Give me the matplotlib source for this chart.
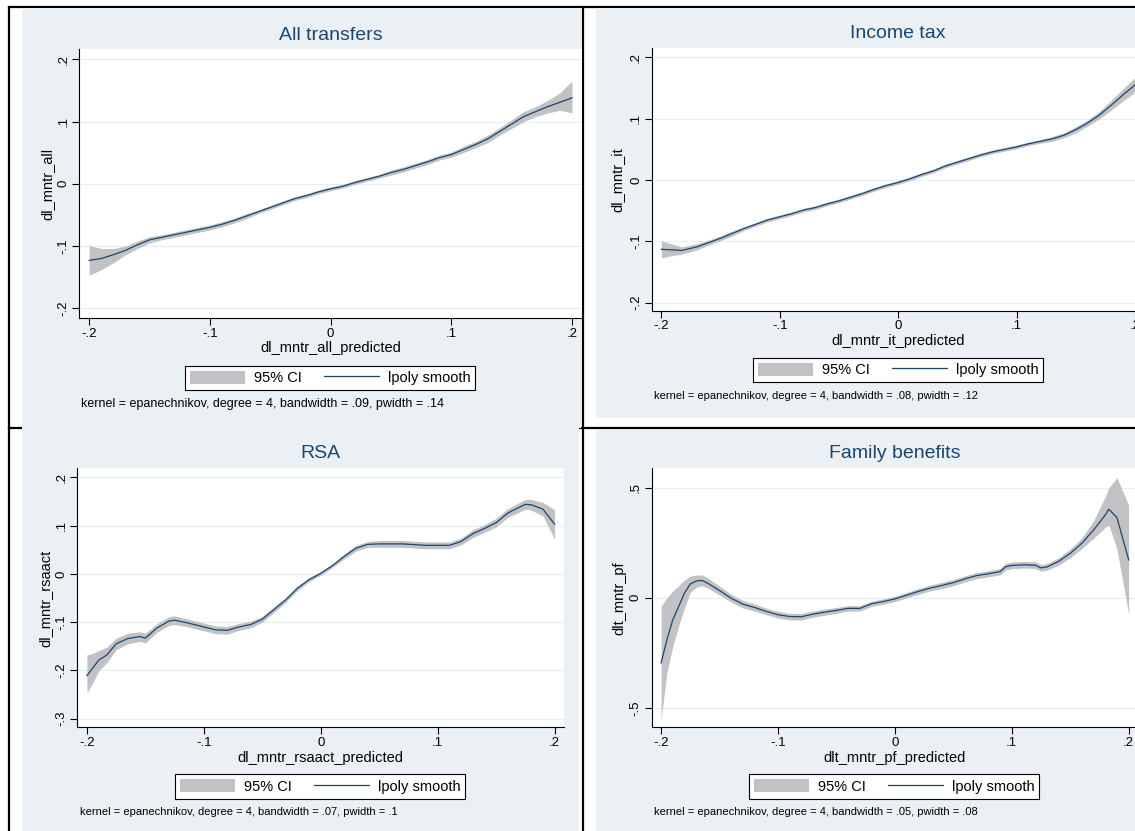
import matplotlib.pyplot as plt
from matplotlib.patches import Rectangle, Patch
from matplotlib.lines import Line2D

plt.rcParams['font.family'] = ['Liberation Sans', 'DejaVu Sans']

# lpoly fits (epanechnikov, degree 4) with their 95% bands
all_x = [-0.20, -0.19, -0.18, -0.17, -0.16, -0.15, -0.14, -0.13, -0.12, -0.11, -0.10,
         -0.09, -0.08, -0.07, -0.06, -0.05, -0.04, -0.03, -0.02, -0.01, 0.00,
         0.01, 0.02, 0.03, 0.04, 0.05, 0.06, 0.07, 0.08, 0.09, 0.10,
         0.11, 0.12, 0.13, 0.14, 0.15, 0.16, 0.17, 0.18, 0.19, 0.20]
all_fit = [-0.123, -0.120, -0.114, -0.107, -0.098, -0.090, -0.086, -0.082, -0.078, -0.074, -0.070,
           -0.065, -0.059, -0.052, -0.045, -0.038, -0.031, -0.024, -0.019, -0.013, -0.008,
           -0.004, 0.002, 0.007, 0.012, 0.018, 0.023, 0.029, 0.035, 0.042, 0.047,
           0.055, 0.063, 0.072, 0.084, 0.096, 0.108, 0.116, 0.124, 0.131, 0.138]
all_lo = [-0.147, -0.138, -0.127, -0.114, -0.104, -0.095, -0.090, -0.086, -0.082, -0.078, -0.074,
          -0.069, -0.063, -0.056, -0.048, -0.041, -0.034, -0.027, -0.022, -0.016, -0.011,
          -0.007, -0.001, 0.004, 0.009, 0.014, 0.019, 0.025, 0.031, 0.038, 0.043,
          0.050, 0.058, 0.066, 0.078, 0.089, 0.100, 0.108, 0.114, 0.118, 0.114]
all_hi = [-0.099, -0.104, -0.104, -0.100, -0.092, -0.085, -0.082, -0.078, -0.074, -0.070, -0.066,
          -0.061, -0.055, -0.048, -0.042, -0.035, -0.028, -0.021, -0.016, -0.010, -0.005,
          -0.001, 0.005, 0.010, 0.015, 0.022, 0.027, 0.033, 0.039, 0.046, 0.051,
          0.060, 0.068, 0.078, 0.090, 0.103, 0.116, 0.124, 0.134, 0.146, 0.165]

it_x = [-0.20, -0.19, -0.183, -0.17, -0.16, -0.15, -0.14, -0.13, -0.12, -0.11, -0.10,
        -0.09, -0.08, -0.07, -0.06, -0.05, -0.04, -0.03, -0.02, -0.01, 0.00,
        0.01, 0.02, 0.03, 0.04, 0.05, 0.06, 0.07, 0.08, 0.09, 0.10,
        0.11, 0.12, 0.13, 0.14, 0.15, 0.16, 0.17, 0.18, 0.19, 0.20]
it_fit = [-0.113, -0.114, -0.115, -0.109, -0.102, -0.095, -0.087, -0.079, -0.072, -0.065, -0.060,
          -0.055, -0.049, -0.045, -0.039, -0.034, -0.028, -0.022, -0.015, -0.009, -0.004,
          0.002, 0.009, 0.015, 0.023, 0.029, 0.035, 0.041, 0.046, 0.050, 0.054,
          0.059, 0.063, 0.067, 0.073, 0.082, 0.093, 0.106, 0.122, 0.139, 0.155]
it_lo = [-0.127, -0.123, -0.121, -0.114, -0.106, -0.099, -0.091, -0.082, -0.075, -0.068, -0.063,
         -0.058, -0.052, -0.048, -0.042, -0.037, -0.031, -0.025, -0.018, -0.012, -0.007,
         -0.001, 0.006, 0.012, 0.020, 0.026, 0.032, 0.038, 0.043, 0.047, 0.051,
         0.056, 0.060, 0.063, 0.069, 0.077, 0.088, 0.100, 0.114, 0.129, 0.143]
it_hi = [-0.099, -0.105, -0.109, -0.104, -0.098, -0.091, -0.083, -0.076, -0.069, -0.062, -0.057,
         -0.052, -0.046, -0.042, -0.036, -0.031, -0.025, -0.019, -0.012, -0.006, -0.001,
         0.005, 0.012, 0.018, 0.026, 0.032, 0.038, 0.044, 0.049, 0.053, 0.057,
         0.062, 0.066, 0.071, 0.077, 0.087, 0.098, 0.112, 0.130, 0.149, 0.167]

rsa_x = [-0.20, -0.195, -0.19, -0.183, -0.175, -0.165, -0.155, -0.15, -0.14, -0.13, -0.125,
         -0.115, -0.10, -0.09, -0.08, -0.07, -0.06, -0.05, -0.04, -0.03, -0.02,
         -0.01, 0.00, 0.01, 0.02, 0.03, 0.04, 0.05, 0.07, 0.09, 0.11,
         0.12, 0.13, 0.14, 0.15, 0.16, 0.17, 0.175, 0.18, 0.19, 0.20]
rsa_fit = [-0.211, -0.195, -0.179, -0.168, -0.145, -0.134, -0.130, -0.133, -0.112, -0.098, -0.096,
           -0.101, -0.110, -0.116, -0.117, -0.110, -0.105, -0.094, -0.074, -0.054, -0.030,
           -0.012, 0.001, 0.017, 0.036, 0.053, 0.061, 0.062, 0.062, 0.059, 0.059,
           0.067, 0.083, 0.094, 0.106, 0.126, 0.138, 0.144, 0.143, 0.134, 0.103]
rsa_lo = [-0.247, -0.226, -0.201, -0.184, -0.157, -0.145, -0.140, -0.143, -0.121, -0.107, -0.105,
          -0.109, -0.118, -0.124, -0.125, -0.117, -0.112, -0.100, -0.080, -0.059, -0.035,
          -0.016, -0.003, 0.013, 0.031, 0.047, 0.055, 0.055, 0.055, 0.052, 0.052,
          0.060, 0.075, 0.086, 0.097, 0.117, 0.128, 0.134, 0.132, 0.120, 0.072]
rsa_hi = [-0.168, -0.165, -0.159, -0.152, -0.133, -0.123, -0.120, -0.123, -0.103, -0.089, -0.087,
          -0.093, -0.102, -0.108, -0.109, -0.103, -0.098, -0.088, -0.068, -0.049, -0.025,
          -0.008, 0.005, 0.021, 0.041, 0.059, 0.067, 0.069, 0.069, 0.066, 0.066,
          0.074, 0.091, 0.102, 0.115, 0.135, 0.148, 0.154, 0.154, 0.148, 0.133]

pf_x = [-0.20, -0.195, -0.19, -0.185, -0.18, -0.175, -0.17, -0.165, -0.16, -0.15, -0.14,
        -0.13, -0.12, -0.11, -0.10, -0.09, -0.08, -0.07, -0.06, -0.05, -0.04,
        -0.03, -0.02, -0.01, 0.00, 0.01, 0.02, 0.03, 0.04, 0.05, 0.06,
        0.07, 0.08, 0.09, 0.095, 0.10, 0.11, 0.12, 0.125, 0.13, 0.14,
        0.15, 0.16, 0.17, 0.18, 0.183, 0.19, 0.20]
pf_fit = [-0.296, -0.190, -0.100, -0.040, 0.021, 0.063, 0.076, 0.079, 0.066, 0.033, -0.002,
          -0.029, -0.044, -0.062, -0.077, -0.085, -0.086, -0.074, -0.065, -0.057, -0.048,
          -0.048, -0.027, -0.017, -0.005, 0.012, 0.029, 0.044, 0.056, 0.069, 0.086,
          0.101, 0.109, 0.119, 0.142, 0.147, 0.150, 0.148, 0.136, 0.140, 0.165,
          0.202, 0.248, 0.308, 0.376, 0.402, 0.364, 0.172]
pf_lo = [-0.553, -0.340, -0.220, -0.130, -0.045, 0.025, 0.048, 0.055, 0.044, 0.013, -0.020,
         -0.046, -0.060, -0.077, -0.092, -0.100, -0.101, -0.088, -0.079, -0.070, -0.061,
         -0.060, -0.039, -0.029, -0.017, 0.000, 0.016, 0.031, 0.042, 0.055, 0.072,
         0.087, 0.095, 0.104, 0.127, 0.132, 0.135, 0.133, 0.121, 0.125, 0.148,
         0.182, 0.224, 0.270, 0.320, 0.330, 0.220, -0.075]
pf_hi = [-0.040, 0.000, 0.030, 0.055, 0.080, 0.098, 0.104, 0.104, 0.090, 0.053, 0.016,
         -0.012, -0.028, -0.047, -0.062, -0.070, -0.071, -0.060, -0.051, -0.044, -0.035,
         -0.036, -0.015, -0.005, 0.007, 0.024, 0.042, 0.057, 0.070, 0.083, 0.100,
         0.115, 0.123, 0.134, 0.157, 0.162, 0.165, 0.163, 0.151, 0.155, 0.182,
         0.222, 0.272, 0.350, 0.460, 0.500, 0.545, 0.420]

x_ticks = [-0.2, -0.1, 0, 0.1, 0.2]
x_tick_labels = ['-.2', '-.1', '0', '.1', '.2']
y_ticks_small = [-0.2, -0.1, 0, 0.1, 0.2]
y_tick_labels_small = ['-.2', '-.1', '0', '.1', '.2']
y_ticks_rsa = [-0.3, -0.2, -0.1, 0, 0.1, 0.2]
y_tick_labels_rsa = ['-.3', '-.2', '-.1', '0', '.1', '.2']
y_ticks_pf = [-0.5, 0, 0.5]
y_tick_labels_pf = ['-.5', '0', '.5']

titles = ['All transfers', 'Income tax', 'RSA', 'Family benefits']
y_titles = ['dl_mntr_all', 'dl_mntr_it', 'dl_mntr_rsaact', 'dlt_mntr_pf']
x_titles = ['dl_mntr_all_predicted', 'dl_mntr_it_predicted',
            'dl_mntr_rsaact_predicted', 'dlt_mntr_pf_predicted']
notes = ['kernel = epanechnikov, degree = 4, bandwidth = .09, pwidth = .14',
         'kernel = epanechnikov, degree = 4, bandwidth = .08, pwidth = .12',
         'kernel = epanechnikov, degree = 4, bandwidth = .07, pwidth = .1',
         'kernel = epanechnikov, degree = 4, bandwidth = .05, pwidth = .08']

W, H = 1135, 831
BG = '#EBF0F5'
NAVY = '#1A476F'
CI_GRAY = '#C2C2C6'
GRID = '#E8EDF2'

fig = plt.figure(figsize=(W / 100, H / 100), dpi=100)
fig.patch.set_facecolor('white')


def px(x, y):
    return x / W, 1 - y / H


# table rules behind the four pasted graphs
rules = [((9, 7), (9, 831)), ((583, 7), (583, 831)),
         ((9, 7), (1135, 7)), ((9, 428), (1135, 428))]
for (x0, y0), (x1, y1) in rules:
    a, b = px(x0, y0)
    c, d = px(x1, y1)
    fig.add_artist(Line2D([a, c], [b, d], color='black', lw=1.6,
                          transform=fig.transFigure, zorder=-3))

# graph regions (left, top, right, bottom) in pixels
regions = [(22, 8, 581, 428), (596, 8, 1135, 418),
           (22, 428, 579, 831), (596, 430, 1135, 831)]
for l, t, r, b in regions:
    fig.add_artist(Rectangle(px(l, b), (r - l) / W, (b - t) / H, facecolor=BG,
                             edgecolor='none', transform=fig.transFigure, zorder=-2))

panels = [
    dict(x=all_x, fit=all_fit, lo=all_lo, hi=all_hi, box=(79.4, 49.3, 581.5, 318.3),
         xlim=(-0.2081, 0.2079), ylim=(-0.2161, 0.2161),
         yt=y_ticks_small, ytl=y_tick_labels_small,
         title=(331, 35), ylab=(47, 184), xlab=(331, 348), leg=(330, 378),
         note=(81, 404), note_fs=9),
    dict(x=it_x, fit=it_fit, lo=it_lo, hi=it_hi, box=(651.9, 48.3, 1135, 310.7),
         xlim=(-0.208, 0.2), ylim=(-0.2131, 0.2147),
         yt=y_ticks_small, ytl=y_tick_labels_small,
         title=(898, 33), ylab=(617, 180), xlab=(898, 341), leg=(898, 370),
         note=(654, 396), note_fs=8),
    dict(x=rsa_x, fit=rsa_fit, lo=rsa_lo, hi=rsa_hi, box=(77.1, 468.3, 563.6, 727.3),
         xlim=(-0.2084, 0.2077), ylim=(-0.3179, 0.2186),
         yt=y_ticks_rsa, ytl=y_tick_labels_rsa,
         title=(320, 453), ylab=(45, 598), xlab=(320, 758), leg=(320, 786.5),
         note=(80, 812), note_fs=8),
    dict(x=pf_x, fit=pf_fit, lo=pf_lo, hi=pf_hi, box=(651.5, 468.3, 1135, 727.3),
         xlim=(-0.2082, 0.2054), ylim=(-0.588, 0.588),
         yt=y_ticks_pf, ytl=y_tick_labels_pf,
         title=(895, 453), ylab=(619, 598), xlab=(895, 758), leg=(894, 786.5),
         note=(654, 812), note_fs=8),
]

for i, p in enumerate(panels):
    l, t, r, b = p['box']
    ax = fig.add_axes([l / W, 1 - b / H, (r - l) / W, (b - t) / H])
    ax.set_facecolor('white')
    for yv in p['yt']:
        ax.axhline(yv, color=GRID, lw=0.8, zorder=0)
    ax.fill_between(p['x'], p['lo'], p['hi'], color=CI_GRAY, lw=0, zorder=1)
    ax.plot(p['x'], p['fit'], color=NAVY, lw=0.9, zorder=2)
    ax.set_xlim(*p['xlim'])
    ax.set_ylim(*p['ylim'])
    ax.set_xticks(x_ticks)
    ax.set_xticklabels(x_tick_labels)
    ax.set_yticks(p['yt'])
    ax.set_yticklabels(p['ytl'], rotation=90, va='center')
    for side in ('top', 'right'):
        ax.spines[side].set_visible(False)
    for side in ('left', 'bottom'):
        ax.spines[side].set_color('black')
        ax.spines[side].set_linewidth(0.8)
    ax.tick_params(direction='out', length=5, width=0.8, color='black',
                   labelsize=9.5, pad=2)

    fig.text(*px(*p['title']), titles[i], ha='center', va='center',
             fontsize=14, color=NAVY)
    fig.text(*px(*p['ylab']), y_titles[i], ha='center', va='center',
             rotation=90, fontsize=10.5)
    fig.text(*px(*p['xlab']), x_titles[i], ha='center', va='center', fontsize=10.5)
    fig.text(*px(*p['note']), notes[i], ha='left', va='center',
             fontsize=p['note_fs'])

    handles = [Patch(facecolor=CI_GRAY, edgecolor='none'),
               Line2D([], [], color=NAVY, lw=0.9)]
    leg = ax.legend(handles, ['95% CI', 'lpoly smooth'], ncol=2, loc='center',
                    bbox_to_anchor=px(*p['leg']), bbox_transform=fig.transFigure,
                    frameon=True, fancybox=False, framealpha=1, edgecolor='black',
                    fontsize=10.5, handlelength=3.8, handleheight=1.0,
                    handletextpad=0.6, columnspacing=1.5, borderpad=0.35)
    leg.get_frame().set_linewidth(0.8)

fig.savefig('out.png', dpi=100)
